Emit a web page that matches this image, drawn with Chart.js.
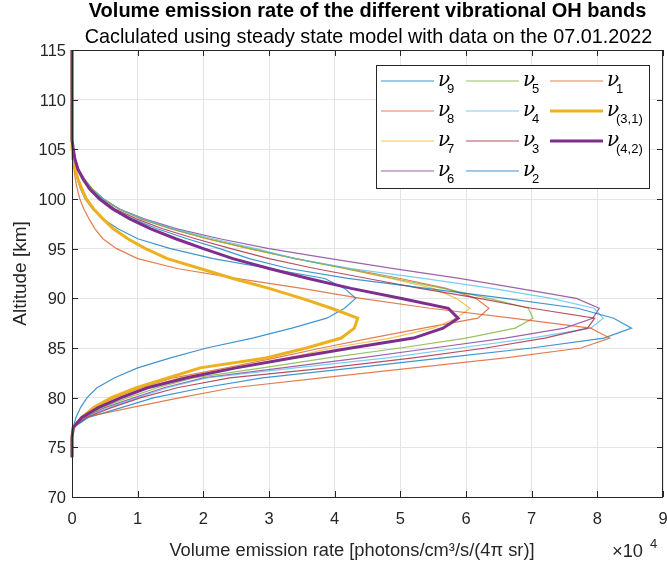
<!DOCTYPE html>
<html>
<head>
<meta charset="utf-8">
<script src="https://cdn.jsdelivr.net/npm/chart.js@4.4.1/dist/chart.umd.min.js"></script>
<style>
  html, body { margin: 0; padding: 0; background: #fff; }
</style>
</head>
<body>
<canvas id="verChart" width="667" height="568"></canvas>
<script>
// altitude grid [km], 74 ... 115
const altitudes = [74,75,76,77,78,79,80,81,82,83,84,85,86,87,88,89,90,91,92,93,94,
                   95,96,97,98,99,100,101,102,103,104,105,106,107,108,109,110,111,112,113,114,115];

// band names (shown as nu with a subscript)
const bandNames = ['9', '8', '7', '6', '5', '4', '3', '2', '1', '(3,1)', '(4,2)'];

// volume emission rate in units of 1e4 photons/cm3/s/(4pi sr), one value per altitude
const ver_nu9  = [0,0,0,0.02,0.06,0.13,0.23,0.38,0.65,1.0,1.5,2.05,2.75,3.35,3.88,4.15,4.32,4.15,3.85,3.0,2.15,
                  1.5,1.0,0.7,0.47,0.31,0.2,0.13,0.08,0.04,0.02,0.01,0,0,0,0,0,0,0,0,0,0];
const ver_nu8  = [0,0,0,0.02,0.14,0.35,0.65,1.05,1.55,2.35,3.1,3.8,4.55,5.35,6.18,6.35,6.15,5.7,5.0,4.2,3.4,
                  2.7,2.05,1.5,1.05,0.72,0.48,0.31,0.19,0.1,0.05,0.02,0,0,0,0,0,0,0,0,0,0];
const ver_nu7  = [0,0,0,0.02,0.15,0.38,0.7,1.1,1.65,2.45,3.3,3.95,4.85,5.5,5.85,6.06,5.85,5.5,4.85,4.15,3.4,
                  2.7,2.05,1.5,1.05,0.72,0.48,0.31,0.19,0.1,0.05,0.02,0,0,0,0,0,0,0,0,0,0];
const ver_nu6  = [0,0,0,0.02,0.18,0.5,0.95,1.4,2.0,3.2,4.4,5.5,6.6,7.5,7.93,8.03,7.68,6.8,5.9,4.9,3.93,
                  3.0,2.25,1.6,1.1,0.72,0.47,0.3,0.18,0.1,0.05,0.02,0,0,0,0,0,0,0,0,0,0];
const ver_nu5  = [0,0,0,0.02,0.17,0.45,0.85,1.3,1.85,2.9,3.9,5.0,6.0,6.75,7.02,6.95,6.35,5.65,4.9,4.15,3.4,
                  2.72,2.08,1.52,1.06,0.72,0.48,0.31,0.19,0.1,0.05,0.02,0,0,0,0,0,0,0,0,0,0];
const ver_nu4  = [0,0,0,0.02,0.2,0.55,1.0,1.45,2.05,3.4,4.8,5.9,7.0,7.9,8.09,7.95,7.3,6.4,5.35,4.25,3.4,
                  2.8,2.15,1.55,1.08,0.72,0.47,0.3,0.18,0.1,0.05,0.02,0,0,0,0,0,0,0,0,0,0];
const ver_nu3  = [0,0,0,0.02,0.22,0.6,1.05,1.6,2.4,3.9,5.2,6.3,7.2,7.85,7.96,7.0,6.2,5.3,4.5,3.7,3.0,
                  2.42,1.88,1.38,0.98,0.66,0.44,0.28,0.17,0.09,0.045,0.02,0,0,0,0,0,0,0,0,0,0];
const ver_nu2  = [0,0,0,0.02,0.25,0.75,1.25,2.0,2.9,4.3,5.65,7.0,8.1,8.52,8.25,7.7,6.6,5.4,4.2,3.3,2.7,
                  2.25,1.75,1.3,0.92,0.63,0.42,0.27,0.17,0.09,0.045,0.02,0,0,0,0,0,0,0,0,0,0];
const ver_nu1  = [0,0,0,0.02,0.18,0.9,1.65,2.45,3.8,5.2,6.6,7.75,8.19,7.9,6.7,5.45,4.4,3.5,2.5,1.6,1.0,
                  0.68,0.47,0.35,0.26,0.18,0.12,0.08,0.05,0.03,0.015,0.005,0,0,0,0,0,0,0,0,0,0];
const ver_nu31 = [0,0,0,0.02,0.15,0.33,0.6,0.98,1.47,1.95,2.95,3.57,4.1,4.3,4.35,3.95,3.5,3.0,2.45,1.95,1.45,
                  1.12,0.85,0.63,0.47,0.33,0.22,0.15,0.09,0.05,0.025,0.01,0,0,0,0,0,0,0,0,0,0];
const ver_nu42 = [0,0,0,0.02,0.15,0.4,0.75,1.15,1.75,2.5,3.35,4.25,5.2,5.65,5.88,5.73,5.0,4.25,3.6,3.0,2.45,
                  2.0,1.58,1.2,0.88,0.62,0.42,0.27,0.17,0.09,0.045,0.02,0,0,0,0,0,0,0,0,0,0];

const allSeries = [ver_nu9, ver_nu8, ver_nu7, ver_nu6, ver_nu5, ver_nu4, ver_nu3, ver_nu2, ver_nu1, ver_nu31, ver_nu42];

// x ticks (x 1e4) and y ticks (km)
const xTicks = [0,1,2,3,4,5,6,7,8,9];
const yTicks = [70,75,80,85,90,95,100,105,110,115];

// matlab default colour order, thin lines slightly transparent
const lineColors = [
  'rgba(0,114,189,0.75)', 'rgba(217,83,25,0.75)', 'rgba(237,177,32,0.75)', 'rgba(126,47,142,0.75)',
  'rgba(119,172,48,0.75)', 'rgba(77,190,238,0.75)', 'rgba(162,20,47,0.75)', 'rgba(0,114,189,0.75)',
  'rgba(217,83,25,0.75)', '#EDB120', '#7E2F8E'
];
const lineWidths = [1.2,1.2,1.2,1.2,1.2,1.2,1.2,1.2,1.2,3,3];

const datasets = allSeries.map(function (vals, i) {
  return {
    label: 'ν' + bandNames[i],
    data: altitudes.map(function (alt, k) { return { x: vals[k], y: alt }; }),
    showLine: true,
    borderColor: lineColors[i],
    backgroundColor: lineColors[i],
    borderWidth: lineWidths[i],
    pointRadius: 0,
    tension: 0,
    clip: 4,
    order: allSeries.length - i   // last band on top, like matlab
  };
});

const FONT = '"Liberation Sans", Arial, sans-serif';
const AXIS_COLOR = '#262626';

// box, inward ticks, tick labels, titles, labels and the legend (matlab look)
const matlabDecor = {
  id: 'matlabDecor',
  afterDraw(chart) {
    const ctx = chart.ctx;
    const a = chart.chartArea;
    const xs = chart.scales.x, ys = chart.scales.y;
    ctx.save();

    // axes box
    ctx.strokeStyle = AXIS_COLOR;
    ctx.lineWidth = 1;
    ctx.strokeRect(Math.round(a.left) + 0.5, Math.round(a.top) + 0.5,
                   Math.round(a.right - a.left) - 1, Math.round(a.bottom - a.top));

    // inward ticks on all four sides + tick labels
    const tl = 6;
    ctx.beginPath();
    xTicks.forEach(function (v) {
      const px = Math.round(xs.getPixelForValue(v)) + 0.5;
      ctx.moveTo(px, a.bottom); ctx.lineTo(px, a.bottom - tl);
      ctx.moveTo(px, a.top); ctx.lineTo(px, a.top + tl);
    });
    yTicks.forEach(function (v) {
      const py = Math.round(ys.getPixelForValue(v)) + 0.5;
      ctx.moveTo(a.left, py); ctx.lineTo(a.left + tl, py);
      ctx.moveTo(a.right, py); ctx.lineTo(a.right - tl, py);
    });
    ctx.stroke();

    ctx.fillStyle = AXIS_COLOR;
    ctx.font = '16.5px ' + FONT;
    ctx.textBaseline = 'alphabetic';
    ctx.textAlign = 'center';
    xTicks.forEach(function (v) {
      ctx.fillText(String(v), xs.getPixelForValue(v), a.bottom + 27);
    });
    ctx.textAlign = 'right';
    yTicks.forEach(function (v) {
      ctx.fillText(String(v), a.left - 6, ys.getPixelForValue(v) + 6);
    });

    // titles
    const cx = (a.left + a.right) / 2;
    ctx.fillStyle = '#000';
    ctx.textAlign = 'center';
    ctx.font = 'bold 20px ' + FONT;
    ctx.fillText('Volume emission rate of the different vibrational OH bands', cx, 17);
    ctx.font = '19.8px ' + FONT;
    ctx.fillText('Caclulated using steady state model with data on the 07.01.2022', cx + 1, 43);

    // x label and exponent
    ctx.fillStyle = AXIS_COLOR;
    ctx.font = '18.3px ' + FONT;
    ctx.fillText('Volume emission rate [photons/cm³/s/(4π sr)]', 352, 556);
    ctx.textAlign = 'left';
    ctx.fillText('×10', 612, 557);
    ctx.font = '13px ' + FONT;
    ctx.fillText('4', 650, 548);

    // y label
    ctx.save();
    ctx.translate(21, (a.top + a.bottom) / 2);
    ctx.rotate(-Math.PI / 2);
    ctx.textAlign = 'center';
    ctx.textBaseline = 'middle';
    ctx.font = '19px ' + FONT;
    ctx.fillText('Altitude [km]', 0, 0);
    ctx.restore();

    // legend, 3 columns filled column by column
    const lg = { left: 376, top: 65, right: 649, bottom: 188 };
    ctx.fillStyle = '#fff';
    ctx.fillRect(lg.left, lg.top, lg.right - lg.left, lg.bottom - lg.top);
    ctx.strokeStyle = AXIS_COLOR;
    ctx.lineWidth = 1;
    ctx.strokeRect(lg.left + 0.5, lg.top + 0.5, lg.right - lg.left, lg.bottom - lg.top);
    const colX = [381, 466, 550];
    chart.data.datasets.forEach(function (ds, i) {
      const col = Math.floor(i / 4), row = i % 4;
      const x0 = colX[col], y0 = 81 + row * 30;
      ctx.strokeStyle = ds.borderColor;
      ctx.lineWidth = ds.borderWidth;
      ctx.beginPath();
      ctx.moveTo(x0, y0); ctx.lineTo(x0 + 53, y0);
      ctx.stroke();
      ctx.fillStyle = '#000';
      ctx.textAlign = 'left';
      ctx.textBaseline = 'alphabetic';
      ctx.font = 'italic 20px "DejaVu Serif", serif';
      ctx.fillText('ν', x0 + 57, y0 + 5);
      ctx.font = '13px ' + FONT;
      ctx.fillText(bandNames[i], x0 + 66, y0 + 12);
    });

    ctx.restore();
  }
};

const ctx = document.getElementById('verChart').getContext('2d');
const verChart = new Chart(ctx, {
  type: 'scatter',
  data: { datasets: datasets },
  options: {
    responsive: false,
    animation: false,
    layout: { padding: { top: 50, right: 4, left: 0, bottom: 0 } },
    plugins: {
      legend: { display: false },
      tooltip: { enabled: false }
    },
    scales: {
      x: {
        type: 'linear',
        min: 0,
        max: 9,
        afterFit: function (s) { s.height = 71; },
        afterBuildTicks: function (s) { s.ticks = xTicks.map(function (v) { return { value: v }; }); },
        grid: { color: '#e4e4e4', drawTicks: false },
        border: { display: false },
        ticks: { display: false }
      },
      y: {
        type: 'linear',
        min: 70,
        max: 115,
        afterFit: function (s) { s.width = 72; },
        afterBuildTicks: function (s) { s.ticks = yTicks.map(function (v) { return { value: v }; }); },
        grid: { color: '#e4e4e4', drawTicks: false },
        border: { display: false },
        ticks: { display: false }
      }
    }
  },
  plugins: [matlabDecor]
});
</script>
</body>
</html>
